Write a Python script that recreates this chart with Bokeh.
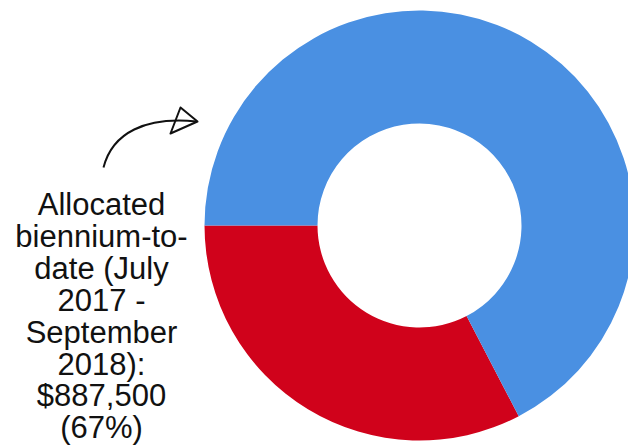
import math
from bokeh.plotting import figure
from bokeh.models import Range1d, ColumnDataSource
from bokeh.core.properties import value
from bokeh.embed import file_html
from bokeh.resources import INLINE

# ---- data ----
categories = ["Remaining", "Allocated biennium-to-date"]
amounts = [430000, 887500]
colors = ["#d0021b", "#4a90e2"]
label_lines = ["Allocated", "biennium-to-", "date (July", "2017 -", "September",
               "2018):", "$887,500", "(67%)"]

# ---- layout (page pixel coordinates; y data = -page y) ----
W, H = 628, 447
p = figure(width=W, height=H, x_range=Range1d(0, 628), y_range=Range1d(-447, 0),
           output_backend="svg", toolbar_location=None, min_border=0)
p.axis.visible = False
p.grid.visible = False
p.outline_line_color = None
p.background_fill_color = "white"

cx, cy = 419, -225
total = sum(amounts)
start = math.pi
starts, ends = [], []
a = start
for v in amounts:
    starts.append(a)
    a = a + 2 * math.pi * v / total
    ends.append(a)

src = ColumnDataSource(dict(cat=categories, amt=amounts, color=colors,
                            start=starts, end=ends))
p.annular_wedge(x=cx, y=cy, inner_radius=102, outer_radius=215,
                start_angle="start", end_angle="end", direction="anticlock",
                fill_color="color", line_color=None, source=src)

# ---- label ----
baseline0, step = 204, 31.9
ys = [-(baseline0 + i * step) for i in range(len(label_lines))]
p.text(x=[101] * len(label_lines), y=ys, text=label_lines,
       text_font=value("Liberation Sans"), text_font_size="31px",
       text_align="center", text_baseline="alphabetic", text_color="#111111")

# ---- hand-drawn arrow ----
p.bezier(x0=103, y0=-167, x1=196, y1=-121, cx0=112, cy0=-132, cx1=145, cy1=-116,
         line_color="#111111", line_width=2)
p.patch(x=[180, 197, 170, 180], y=[-107, -121, -133, -107], fill_color=None,
        line_color="#111111", line_width=2, line_join="round")

open("out.html", "w").write(file_html(p, INLINE))
